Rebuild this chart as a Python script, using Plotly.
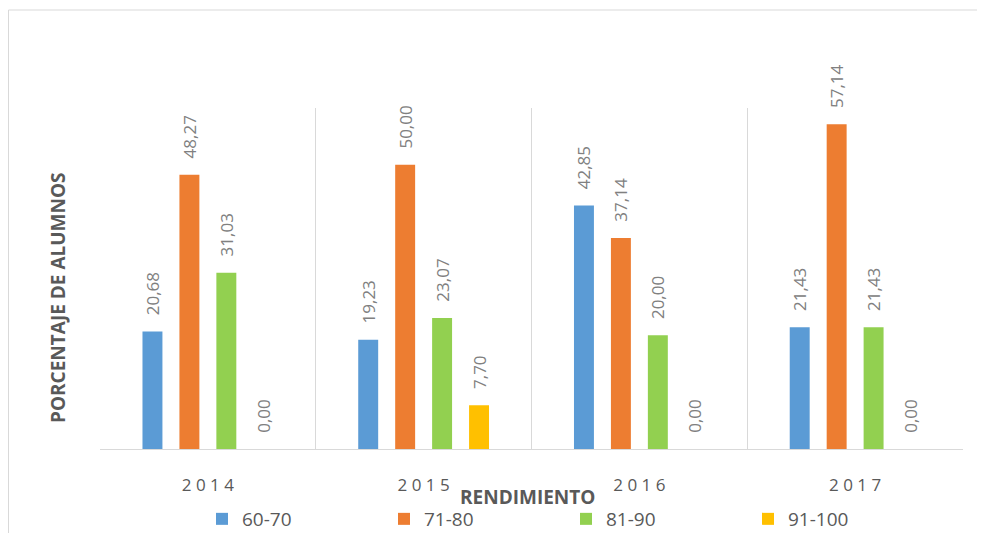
import plotly.graph_objects as go

years = ["2014", "2015", "2016", "2017"]
series_names = ["60-70", "71-80", "81-90", "91-100"]
v_60_70 = [20.68, 19.23, 42.85, 21.43]
v_71_80 = [48.27, 50.00, 37.14, 57.14]
v_81_90 = [31.03, 23.07, 20.00, 21.43]
v_91_100 = [0.00, 7.70, 0.00, 0.00]
colors = ["#5B9BD5", "#ED7D31", "#92D050", "#FFC000"]
tick_labels = [" ".join(y) for y in years]

W, H = 985, 533
OFF = 8  # page body margin
# plot area in screen pixels
L, R, T, B = 100, 963, 108, 449

fig = go.Figure()
for name, vals, col in zip(series_names, [v_60_70, v_71_80, v_81_90, v_91_100], colors):
    fig.add_trace(go.Bar(
        x=years, y=vals, name=name, marker=dict(color=col, line=dict(width=0)),
        texttemplate="\u00a0\u00a0\u00a0%{y:.2f}", textposition="outside", textangle=-90,
        constraintext="none", cliponaxis=False,
        textfont=dict(family="Open Sans", size=17, color="#808080"),
    ))

pw, ph = R - L, B - T
def px(x): return (x - L) / pw
def py(y): return (B - y) / ph

fig.update_layout(
    width=W, height=H,
    margin=dict(l=L - OFF, r=W - (R - OFF), t=T - OFF, b=H - (B - OFF), autoexpand=False),
    paper_bgcolor="white", plot_bgcolor="white",
    separators=",.",
    barmode="group", bargap=0.315, bargroupgap=0.46,
    showlegend=True,
    legend=dict(orientation="h", x=px(202), xanchor="left", y=py(519), yanchor="middle",
                entrywidth=137, entrywidthmode="pixels",
                font=dict(family="Open Sans", size=19, color="#595959"),
                bgcolor="rgba(0,0,0,0)", itemclick=False),
    font=dict(family="Open Sans", color="#595959"),
    xaxis=dict(type="category", tickson="boundaries", showgrid=True, gridcolor="#D9D9D9",
               gridwidth=1, showline=True, linecolor="#D9D9D9", linewidth=1,
               ticks="", tickvals=years, ticktext=tick_labels,
               tickfont=dict(family="Open Sans", size=17, color="#595959"),
               ticklabelstandoff=21, range=[-0.5, 3.5], zeroline=False),
    yaxis=dict(range=[0, 60], showgrid=False, showticklabels=False, ticks="",
               showline=False, zeroline=False),
    shapes=[dict(type="rect", xref="paper", yref="paper",
                 x0=px(8.5), x1=px(1200), y0=py(700), y1=py(10),
                 line=dict(color="#D9D9D9", width=1), fillcolor="rgba(0,0,0,0)", layer="below")],
    annotations=[
        dict(text="<b>RENDIMIENTO</b>", xref="paper", yref="paper", x=px(527), y=py(497),
             showarrow=False, xanchor="center", yanchor="middle",
             font=dict(family="Open Sans", size=19, color="#595959")),
        dict(text="<b>PORCENTAJE DE ALUMNOS</b>", xref="paper", yref="paper", x=px(58), y=py(298),
             showarrow=False, xanchor="center", yanchor="middle", textangle=-90,
             font=dict(family="Open Sans", size=19, color="#595959")),
    ],
)

fig.write_html("out.html")
